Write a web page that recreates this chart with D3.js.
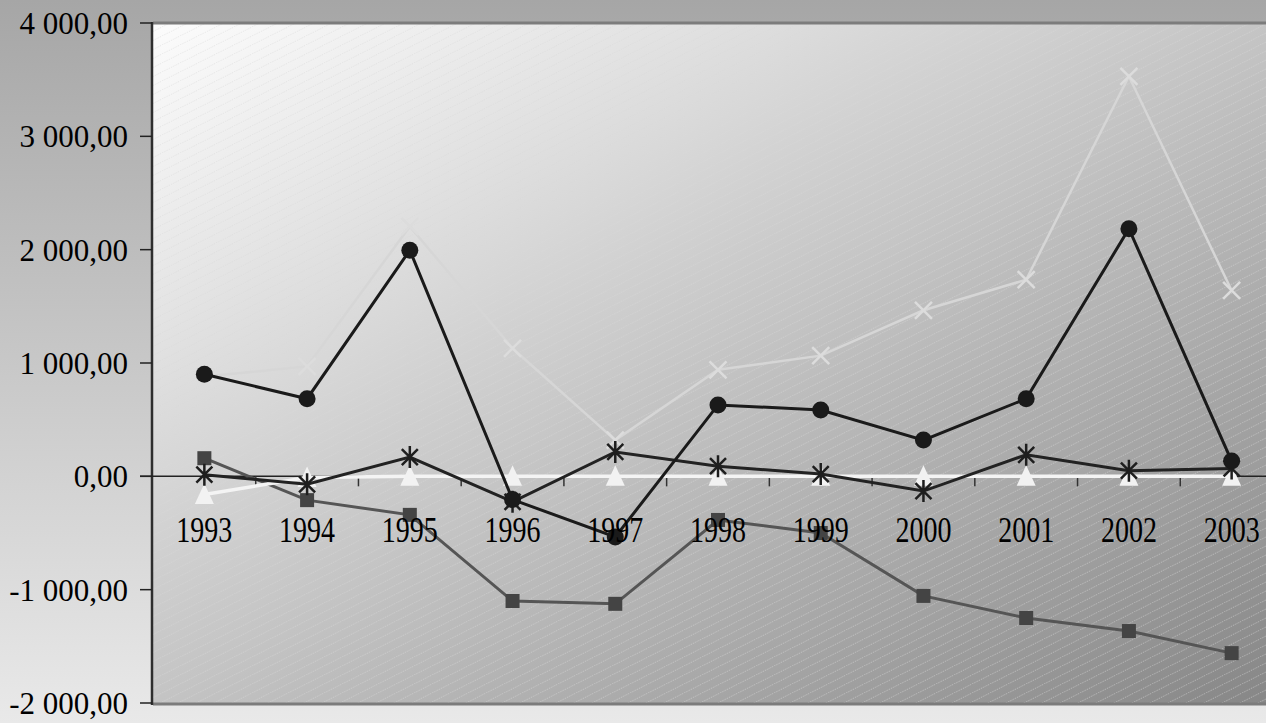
<!DOCTYPE html>
<html>
<head>
<meta charset="utf-8">
<script src="https://cdn.jsdelivr.net/npm/d3@7"></script>
<style>
  html, body { margin: 0; padding: 0; overflow: hidden; }
  svg { display: block; }
  text { font-family: "Liberation Serif", "Times New Roman", serif; fill: #000; }
</style>
</head>
<body>
<svg id="chart"></svg>
<script>
const years = ["1993","1994","1995","1996","1997","1998","1999","2000","2001","2002","2003"];
const yTicks = [-2000, -1000, 0, 1000, 2000, 3000, 4000];

// series values
const circleSeries   = [900, 685, 1995, -205, -535, 630, 585, 320, 685, 2185, 135];
const crossSeries    = [880, 970, 2205, 1130, 320, 940, 1065, 1465, 1735, 3530, 1640];
const squareSeries   = [160, -210, -340, -1100, -1125, -385, -500, -1055, -1250, -1365, -1560];
const triangleSeries = [-160, -10, 0, 0, 0, 0, 0, 0, 0, 0, 0];
const starSeries     = [15, -70, 170, -225, 215, 90, 20, -130, 190, 50, 70];

const width = 1266, height = 723;
const plot = { left: 153, top: 23, right: 1283, bottom: 703 };

const svg = d3.select("#chart")
    .attr("width", width)
    .attr("height", height);

const defs = svg.append("defs");

// outer background
const bg = defs.append("linearGradient").attr("id", "bg")
    .attr("x1", 0).attr("y1", 0).attr("x2", 0).attr("y2", 1);
bg.append("stop").attr("offset", 0).attr("stop-color", "#a6a6a6");
bg.append("stop").attr("offset", 1).attr("stop-color", "#e9e9e9");

// plot area gradient (top-left light -> bottom-right dark)
const pg = defs.append("linearGradient").attr("id", "plotbg")
    .attr("x1", 0).attr("y1", 0).attr("x2", 1).attr("y2", 1);
pg.append("stop").attr("offset", 0).attr("stop-color", "#fcfcfc");
pg.append("stop").attr("offset", 0.5).attr("stop-color", "#c4c4c4");
pg.append("stop").attr("offset", 1).attr("stop-color", "#868686");

// diagonal hatch
const hatch = defs.append("pattern").attr("id", "hatch")
    .attr("patternUnits", "userSpaceOnUse")
    .attr("width", 18).attr("height", 9);
[-18, 0, 18].forEach(off => {
    hatch.append("line")
        .attr("x1", off).attr("y1", 9).attr("x2", off + 18).attr("y2", 0)
        .attr("stroke", "#d8d8d8").attr("stroke-opacity", 0.5)
        .attr("stroke-width", 1).attr("stroke-dasharray", "1.5,1");
});

svg.append("rect").attr("width", width).attr("height", height).attr("fill", "url(#bg)");

const x = d3.scaleBand()
    .domain(years)
    .range([plot.left, plot.right])
    .padding(0);

const y = d3.scaleLinear()
    .domain([-2000, 4000])
    .range([plot.bottom, plot.top]);

const cx = d => x(d) + x.bandwidth() / 2;

// plot area
svg.append("rect")
    .attr("x", plot.left).attr("y", plot.top)
    .attr("width", plot.right - plot.left).attr("height", plot.bottom - plot.top)
    .attr("fill", "url(#plotbg)");
svg.append("rect")
    .attr("x", plot.left).attr("y", plot.top)
    .attr("width", plot.right - plot.left).attr("height", plot.bottom - plot.top)
    .attr("fill", "url(#hatch)");

// plot borders
svg.append("line").attr("x1", plot.left).attr("x2", plot.right)
    .attr("y1", plot.top).attr("y2", plot.top)
    .attr("stroke", "#7c7c7c").attr("stroke-width", 3);
svg.append("line").attr("x1", plot.left).attr("x2", plot.right)
    .attr("y1", plot.bottom + 1).attr("y2", plot.bottom + 1)
    .attr("stroke", "#7c7c7c").attr("stroke-width", 3);
svg.append("line").attr("x1", plot.left - 1).attr("x2", plot.left - 1)
    .attr("y1", plot.top - 1).attr("y2", plot.bottom + 2)
    .attr("stroke", "#2e2e2e").attr("stroke-width", 2.5);

// y axis ticks + labels
const yAxis = svg.append("g");
yTicks.forEach(t => {
    yAxis.append("line")
        .attr("x1", 140).attr("x2", plot.left - 1)
        .attr("y1", y(t)).attr("y2", y(t))
        .attr("stroke", "#222").attr("stroke-width", 1.5);
    yAxis.append("text")
        .attr("x", 128).attr("y", y(t) + 11)
        .attr("text-anchor", "end")
        .attr("font-size", 31)
        .text(d3.format(",.2f")(t).replace(/,/g, " ").replace(".", ",").replace("−", "-"));
});

// x axis at zero
const y0 = y(0);
svg.append("line")
    .attr("x1", 140).attr("x2", plot.right)
    .attr("y1", y0).attr("y2", y0)
    .attr("stroke", "#222").attr("stroke-width", 1.5);
years.slice(1).forEach(yr => {
    svg.append("line")
        .attr("x1", x(yr)).attr("x2", x(yr))
        .attr("y1", y0).attr("y2", y0 + 10)
        .attr("stroke", "#333").attr("stroke-width", 1.5);
});

const line = d3.line()
    .x((d, i) => cx(years[i]))
    .y(d => y(d));

// series, back to front
const gSq = svg.append("g");
gSq.append("path").attr("d", line(squareSeries))
    .attr("fill", "none").attr("stroke", "#555").attr("stroke-width", 3);
gSq.selectAll("rect").data(squareSeries).enter().append("rect")
    .attr("x", (d, i) => cx(years[i]) - 7).attr("y", d => y(d) - 7)
    .attr("width", 14).attr("height", 14).attr("fill", "#444");

const gTri = svg.append("g");
gTri.append("path").attr("d", line(triangleSeries))
    .attr("fill", "none").attr("stroke", "#f4f4f4").attr("stroke-width", 3.5);
gTri.selectAll("path.m").data(triangleSeries).enter().append("path")
    .attr("class", "m")
    .attr("d", (d, i) => {
        const px = cx(years[i]), py = y(d);
        return `M${px},${py - 11} L${px + 9.5},${py + 9.5} L${px - 9.5},${py + 9.5} Z`;
    })
    .attr("fill", "#f2f2f2");

const gX = svg.append("g");
gX.append("path").attr("d", line(crossSeries))
    .attr("fill", "none").attr("stroke", "#d6d6d6").attr("stroke-width", 2.5);
gX.selectAll("path.m").data(crossSeries).enter().append("path")
    .attr("class", "m")
    .attr("d", (d, i) => {
        const px = cx(years[i]), py = y(d), s = 8.5;
        return `M${px - s},${py - s} L${px + s},${py + s} M${px - s},${py + s} L${px + s},${py - s}`;
    })
    .attr("stroke", "#dcdcdc").attr("stroke-width", 2.5);

const gStar = svg.append("g");
gStar.append("path").attr("d", line(starSeries))
    .attr("fill", "none").attr("stroke", "#222").attr("stroke-width", 3);
gStar.selectAll("path.m").data(starSeries).enter().append("path")
    .attr("class", "m")
    .attr("d", (d, i) => {
        const px = cx(years[i]), py = y(d), s = 8;
        return `M${px - s},${py - s} L${px + s},${py + s} M${px - s},${py + s} L${px + s},${py - s} M${px},${py - 11} L${px},${py + 11}`;
    })
    .attr("stroke", "#1e1e1e").attr("stroke-width", 2.5);

const gCirc = svg.append("g");
gCirc.append("path").attr("d", line(circleSeries))
    .attr("fill", "none").attr("stroke", "#1a1a1a").attr("stroke-width", 3);
gCirc.selectAll("circle").data(circleSeries).enter().append("circle")
    .attr("cx", (d, i) => cx(years[i])).attr("cy", d => y(d))
    .attr("r", 8.5).attr("fill", "#1a1a1a");

// category labels
svg.append("g").selectAll("text").data(years).enter().append("text")
    .attr("transform", d => `translate(${cx(d)},${y0 + 66}) scale(0.8,1)`)
    .attr("text-anchor", "middle")
    .attr("font-size", 35)
    .text(d => d);
</script>
</body>
</html>
